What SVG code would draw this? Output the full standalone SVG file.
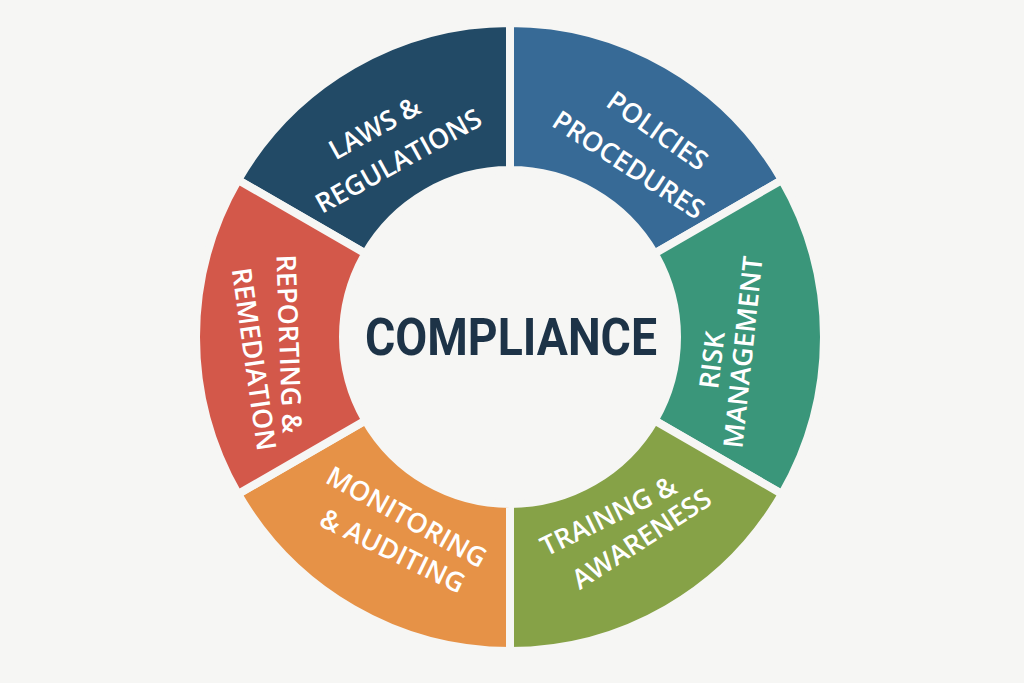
<svg xmlns="http://www.w3.org/2000/svg" width="1024" height="683" viewBox="0 0 1024 683">
<style>
.seg{stroke:#f6f6f4;stroke-width:8;stroke-linejoin:miter}
.lbl{font-family:"Open Sans","Noto Sans","Liberation Sans",sans-serif;font-weight:600;font-size:27px;fill:#ffffff;text-anchor:middle;dominant-baseline:central}
.title{font-family:Roboto,"Liberation Sans",sans-serif;font-weight:700;font-size:51px;fill:#1d3347;text-anchor:middle;dominant-baseline:central}
</style>
<rect width="1024" height="683" fill="#f6f6f4"/>
<g id="connectors"></g>
<g id="laws">
<path class="seg" fill="#224a66" d="M 238.07,180 A 314 314 0 0 1 510,23 L 510,170 A 167 167 0 0 0 365.38,253.5 Z"/>
<text class="lbl" transform="translate(374,127) rotate(-29)">LAWS &amp;</text>
<text class="lbl" transform="translate(398,160) rotate(-29)">REGULATIONS</text>
</g>
<g id="policies">
<path class="seg" fill="#376a96" d="M 510,23 A 314 314 0 0 1 781.93,180 L 654.62,253.5 A 167 167 0 0 0 510,170 Z"/>
<text class="lbl" transform="translate(658,130) rotate(35)">POLICIES</text>
<text class="lbl" transform="translate(629,164) rotate(33)">PROCEDURES</text>
</g>
<g id="risk">
<path class="seg" fill="#3a967a" d="M 781.93,180 A 314 314 0 0 1 781.93,494 L 654.62,420.5 A 167 167 0 0 0 654.62,253.5 Z"/>
<text class="lbl" transform="translate(711,360) rotate(-83)">RISK</text>
<text class="lbl" transform="translate(742,352) rotate(-84)">MANAGEMENT</text>
</g>
<g id="training">
<path class="seg" fill="#86a247" d="M 781.93,494 A 314 314 0 0 1 510,651 L 510,504 A 167 167 0 0 0 654.62,420.5 Z"/>
<text class="lbl" transform="translate(608,515) rotate(-26)">TRAINNG &amp;</text>
<text class="lbl" transform="translate(641,538) rotate(-33)">AWARENESS</text>
</g>
<g id="monitoring">
<path class="seg" fill="#e69247" d="M 510,651 A 314 314 0 0 1 238.07,494 L 365.38,420.5 A 167 167 0 0 0 510,504 Z"/>
<text class="lbl" transform="translate(407,516) rotate(29)">MONITORING</text>
<text class="lbl" transform="translate(393,550) rotate(26)">&amp; AUDITING</text>
</g>
<g id="reporting">
<path class="seg" fill="#d3584a" d="M 238.07,494 A 314 314 0 0 1 238.07,180 L 365.38,253.5 A 167 167 0 0 0 365.38,420.5 Z"/>
<text class="lbl" transform="translate(290,344) rotate(88)">REPORTING &amp;</text>
<text class="lbl" transform="translate(255,359) rotate(82)">REMEDIATION</text>
</g>
<g id="center">
<text class="title" x="511" y="337" textLength="292" lengthAdjust="spacingAndGlyphs">COMPLIANCE</text>
</g>
</svg>
